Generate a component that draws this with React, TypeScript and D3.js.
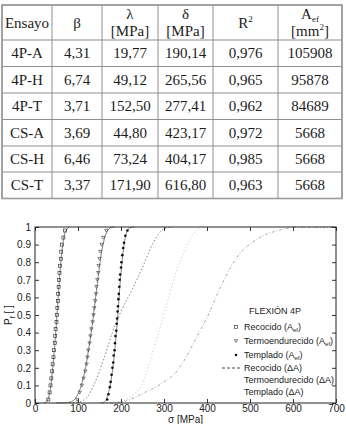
import { useEffect, useRef } from "react";
import * as d3 from "d3";

// Weibull fit table
const ENSAYOS = ["4P-A", "4P-H", "4P-T", "CS-A", "CS-H", "CS-T"];
const BETA = ["4,31", "6,74", "3,71", "3,69", "6,46", "3,37"];
const LAMBDA = ["19,77", "49,12", "152,50", "44,80", "73,24", "171,90"];
const DELTA = ["190,14", "265,56", "277,41", "423,17", "404,17", "616,80"];
const R2 = ["0,976", "0,965", "0,962", "0,972", "0,985", "0,963"];
const AEF = ["105908", "95878", "84689", "5668", "5668", "5668"];

// experimental points [sigma MPa, Pf]
const RECOCIDO: [number, number][] = [
  [31, 0.02], [34, 0.06], [36, 0.1], [38, 0.14], [40, 0.18], [41, 0.22], [43, 0.26],
  [44, 0.3], [46, 0.34], [47, 0.38], [48, 0.42], [50, 0.46], [51, 0.5], [52, 0.54],
  [53, 0.58], [54, 0.62], [55, 0.66], [56, 0.7], [57, 0.74], [58, 0.78], [60, 0.82],
  [61, 0.86], [63, 0.9], [66, 0.94], [70, 0.98],
];
const TERMO: [number, number][] = [
  [98, 0.02], [104, 0.06], [109, 0.1], [113, 0.14], [117, 0.18], [120, 0.22], [122, 0.26],
  [124, 0.3], [127, 0.34], [129, 0.38], [131, 0.42], [134, 0.46], [136, 0.5], [138, 0.54],
  [140, 0.58], [142, 0.62], [143, 0.66], [145, 0.7], [147, 0.74], [148, 0.78], [150, 0.82],
  [152, 0.86], [155, 0.9], [159, 0.94], [166, 0.98],
];
const TEMPLADO: [number, number][] = [
  [168, 0.02], [171, 0.05], [174, 0.09], [176, 0.12], [178, 0.16], [180, 0.2], [182, 0.23],
  [183, 0.27], [185, 0.3], [186, 0.34], [187, 0.38], [189, 0.41], [190, 0.45], [191, 0.48],
  [192, 0.52], [193, 0.55], [194, 0.59], [195, 0.62], [196, 0.66], [197, 0.7], [198, 0.73],
  [200, 0.77], [201, 0.8], [203, 0.84], [205, 0.88], [207, 0.91], [210, 0.95], [215, 0.98],
];

// fitted curves, A_ef
const FIT_RECOCIDO: [number, number][] = [
  [19.8, 0], [25, 0.003], [30, 0.02], [35, 0.07], [40, 0.17], [45, 0.3], [50, 0.46],
  [55, 0.64], [60, 0.8], [65, 0.91], [70, 0.97], [80, 1],
];
const FIT_TERMO: [number, number][] = [
  [49.1, 0], [70, 0.001], [85, 0.008], [95, 0.03], [105, 0.08], [115, 0.17], [125, 0.31],
  [135, 0.48], [145, 0.68], [155, 0.86], [165, 0.96], [175, 0.995], [185, 1],
];
const FIT_TEMPLADO: [number, number][] = [
  [152.5, 0], [160, 0.004], [170, 0.05], [180, 0.18], [190, 0.42], [200, 0.74],
  [210, 0.94], [220, 0.995], [230, 1],
];

// fitted curves, area change
const DA_RECOCIDO: [number, number][] = [
  [80, 0], [100, 0.005], [120, 0.03], [140, 0.12], [160, 0.25], [180, 0.4], [200, 0.52],
  [225, 0.64], [250, 0.77], [275, 0.91], [300, 0.99], [320, 1],
];
const DA_TERMO: [number, number][] = [
  [150, 0], [200, 0.01], [230, 0.05], [250, 0.11], [265, 0.22], [285, 0.38], [305, 0.55],
  [325, 0.72], [349, 0.87], [360, 0.93], [375, 0.98], [395, 1],
];
const DA_TEMPLADO: [number, number][] = [
  [175, 0], [209, 0.01], [256, 0.06], [300, 0.12], [326, 0.17], [349, 0.25],
  [375, 0.37], [403, 0.5], [430, 0.65], [457, 0.78], [480, 0.86], [504, 0.91],
  [530, 0.95], [558, 0.975], [580, 0.99], [610, 1], [700, 1],
];

const X_TICKS = [0, 100, 200, 300, 400, 500, 600, 700];
const Y_TICKS = [0, 0.1, 0.2, 0.3, 0.4, 0.5, 0.6, 0.7, 0.8, 0.9, 1];

const SERIF = "'Liberation Serif', 'Times New Roman', serif";
const SANS = "'Liberation Sans', Arial, sans-serif";

type G = d3.Selection<SVGGElement, unknown, null, undefined>;

export default function App() {
  const svgRef = useRef<SVGSVGElement>(null);

  useEffect(() => {
    if (!svgRef.current) return;
    const svg = d3.select(svgRef.current);
    svg.selectAll("*").remove();

    // ---------- table ----------
    const colEdges = [2, 52, 102, 158, 213, 278, 342];
    const rowEdges = [5, 40, 66.5, 93, 119.5, 146, 172, 198.5];
    const colMid = (i: number) => (colEdges[i] + colEdges[i + 1]) / 2;
    const tbl = svg.append("g").attr("font-family", SERIF).attr("fill", "#1c1c1c");

    rowEdges.forEach(yy => {
      tbl.append("line").attr("x1", colEdges[0]).attr("x2", colEdges[6])
        .attr("y1", yy).attr("y2", yy).attr("stroke", "#8f8f8f").attr("stroke-width", 1);
    });
    colEdges.forEach(xx => {
      tbl.append("line").attr("x1", xx).attr("x2", xx)
        .attr("y1", rowEdges[0]).attr("y2", rowEdges[7]).attr("stroke", "#8f8f8f").attr("stroke-width", 1);
    });
    tbl.append("rect").attr("x", colEdges[0]).attr("y", rowEdges[0])
      .attr("width", colEdges[6] - colEdges[0]).attr("height", rowEdges[7] - rowEdges[0])
      .attr("fill", "none").attr("stroke", "#9a9a9a").attr("stroke-width", 1.6);

    const cell = (i: number, yy: number, txt: string) =>
      tbl.append("text").attr("x", colMid(i)).attr("y", yy).attr("text-anchor", "middle")
        .attr("font-size", 15).text(txt);

    // header
    cell(0, 28, "Ensayo");
    cell(1, 28, "β");
    cell(2, 19, "λ");
    cell(2, 36, "[MPa]");
    cell(3, 19, "δ");
    cell(3, 36, "[MPa]");
    const r2 = cell(4, 28, "R");
    r2.append("tspan").attr("font-size", 9).attr("dy", -6).text("2");
    const a = cell(5, 19, "A");
    a.append("tspan").attr("font-size", 9).attr("dy", 3).text("ef");
    const mm = cell(5, 36, "[mm");
    mm.append("tspan").attr("font-size", 9).attr("dy", -6).text("2");
    mm.append("tspan").attr("dy", 6).text("]");

    const cols = [ENSAYOS, BETA, LAMBDA, DELTA, R2, AEF];
    ENSAYOS.forEach((_, r) => {
      const yc = (rowEdges[r + 1] + rowEdges[r + 2]) / 2 + 5;
      cols.forEach((c, i) => cell(i, yc, c[r]));
    });

    // ---------- chart ----------
    const m = { left: 35, right: 336, top: 227, bottom: 403 };
    const x = d3.scaleLinear().domain([0, 700]).range([m.left, m.right]);
    const y = d3.scaleLinear().domain([0, 1]).range([m.bottom, m.top]);

    const chart = svg.append("g").attr("font-family", SANS);

    const line = d3.line<[number, number]>()
      .x(d => x(d[0])).y(d => y(d[1]))
      .curve(d3.curveMonotoneX);

    // area-change curves
    chart.append("path").datum(DA_TEMPLADO).attr("d", line).attr("fill", "none")
      .attr("stroke", "#8a8a8a").attr("stroke-width", 0.8).attr("stroke-dasharray", "2.5,2,0.8,2");
    chart.append("path").datum(DA_TERMO).attr("d", line).attr("fill", "none")
      .attr("stroke", "#b0b0b0").attr("stroke-width", 0.8).attr("stroke-dasharray", "1,2.5");
    chart.append("path").datum(DA_RECOCIDO).attr("d", line).attr("fill", "none")
      .attr("stroke", "#666").attr("stroke-width", 0.8).attr("stroke-dasharray", "1.5,2");

    // A_ef fits
    [FIT_RECOCIDO, FIT_TERMO, FIT_TEMPLADO].forEach(f => {
      chart.append("path").datum(f).attr("d", line).attr("fill", "none")
        .attr("stroke", "#333").attr("stroke-width", 0.6);
    });

    // markers
    const square = (g: G, cx: number, cy: number) =>
      g.append("rect").attr("x", cx - 1.5).attr("y", cy - 1.5).attr("width", 3).attr("height", 3)
        .attr("fill", "none").attr("stroke", "#222").attr("stroke-width", 0.6);
    const tri = (g: G, cx: number, cy: number) =>
      g.append("path").attr("d", `M${cx - 1.7},${cy - 1.3}L${cx + 1.7},${cy - 1.3}L${cx},${cy + 1.6}Z`)
        .attr("fill", "none").attr("stroke", "#333").attr("stroke-width", 0.6);
    const dot = (g: G, cx: number, cy: number) =>
      g.append("circle").attr("cx", cx).attr("cy", cy).attr("r", 1.3).attr("fill", "#111");

    const mk = chart.append("g");
    RECOCIDO.forEach(d => square(mk, x(d[0]), y(d[1])));
    TERMO.forEach(d => tri(mk, x(d[0]), y(d[1])));
    TEMPLADO.forEach(d => dot(mk, x(d[0]), y(d[1])));

    // axes, ticks inward on all sides
    const fmtY = (d: d3.NumberValue) => (+d === 0 || +d === 1 ? String(d) : d3.format(".1f")(d));
    const ax = chart.append("g");
    ax.append("g").attr("transform", `translate(${m.left},0)`)
      .call(d3.axisLeft(y).tickValues(Y_TICKS).tickFormat(fmtY).tickSize(-4).tickPadding(4));
    ax.append("g").attr("transform", `translate(${m.right},0)`)
      .call(d3.axisRight(y).tickValues(Y_TICKS).tickFormat(() => "").tickSize(-4));
    ax.append("g").attr("transform", `translate(0,${m.bottom})`)
      .call(d3.axisBottom(x).tickValues(X_TICKS).tickFormat(d3.format("d")).tickSize(-4).tickPadding(2));
    ax.append("g").attr("transform", `translate(0,${m.top})`)
      .call(d3.axisTop(x).tickValues(X_TICKS).tickFormat(() => "").tickSize(-4));
    ax.selectAll(".domain").remove();
    ax.selectAll("text").attr("font-family", SANS).attr("fill", "#222").attr("font-size", 10);
    ax.selectAll("line").attr("stroke", "#333");

    chart.append("rect").attr("x", m.left).attr("y", m.top)
      .attr("width", m.right - m.left).attr("height", m.bottom - m.top)
      .attr("fill", "none").attr("stroke", "#222").attr("stroke-width", 1);

    // axis labels
    chart.append("text").attr("x", (m.left + m.right) / 2).attr("y", 422.5)
      .attr("text-anchor", "middle").attr("font-size", 10).attr("fill", "#222").text("σ [MPa]");
    const yl = chart.append("text").attr("transform", `translate(12,${(m.top + m.bottom) / 2}) rotate(-90)`)
      .attr("text-anchor", "middle").attr("font-size", 10).attr("fill", "#222").text("P");
    yl.append("tspan").attr("font-size", 7).attr("dy", 3).text("f");
    yl.append("tspan").attr("dy", -3).text(" [ ]");

    // legend
    const lg = chart.append("g").attr("font-size", 9).attr("fill", "#222");
    const tx = 244, mx = 236;
    lg.append("text").attr("x", 249).attr("y", 314).text("FLEXIÓN 4P");
    const entry = (yy: number, label: string, sub: string) => {
      const t = lg.append("text").attr("x", tx).attr("y", yy + 3).text(label);
      t.append("tspan").attr("font-size", 6).attr("dy", 2).text(sub);
      t.append("tspan").attr("dy", -2).text(")");
    };
    entry(327, "Recocido (A", "ef");
    entry(341, "Termoendurecido (A", "ef");
    entry(355, "Templado (A", "ef");
    lg.append("text").attr("x", tx).attr("y", 371).text("Recocido (ΔA)");
    lg.append("text").attr("x", tx).attr("y", 383).text("Termoendurecido (ΔA)");
    lg.append("text").attr("x", tx).attr("y", 395).text("Templado (ΔA)");
    square(lg, mx, 327);
    tri(lg, mx, 341);
    dot(lg, mx, 355);
    lg.append("line").attr("x1", 222).attr("x2", 242).attr("y1", 368).attr("y2", 368)
      .attr("stroke", "#333").attr("stroke-width", 0.9).attr("stroke-dasharray", "3,2");
  }, []);

  return (
    <div style={{ position: "absolute", left: 0, top: 0 }}>
      <svg ref={svgRef} width={346} height={424} style={{ display: "block", background: "white" }} />
    </div>
  );
}
